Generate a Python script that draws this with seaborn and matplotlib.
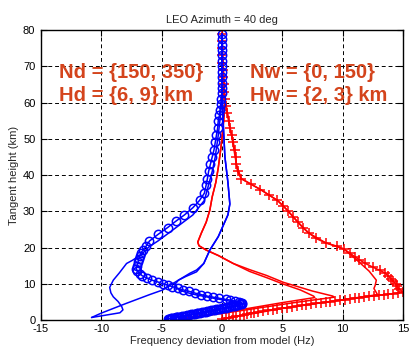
import numpy as np
import pandas as pd
import matplotlib
matplotlib.use("Agg")
import matplotlib.pyplot as plt
import seaborn as sns

# ---------------- data ----------------
# Blue line with circle markers (x = Hz, h = km)
blue_circ_x = [0, 0, 0, 0, 0, 0, 0, 0, 0, 0, 0, 0, -0.05, -0.1, -0.15, -0.2, -0.3, -0.35, -0.45,
               -0.55, -0.65, -0.8, -0.95, -1.1, -1.2, -1.3, -1.45, -1.85, -2.4, -3.1, -3.8,
               -4.5, -5.3, -6.0, -6.3, -6.5, -6.7, -6.8, -6.9, -6.95, -7.05, -7.1, -7.0, -6.8,
               -6.6, -6.2, -5.8, -5.3, -4.9, -4.5, -4.1, -3.6, -3.2, -2.7, -2.2, -1.7, -1.2,
               -0.7, -0.2, 0.3, 0.7, 1.1, 1.4, 1.6, 1.7, 1.65, 1.5, 1.35, 1.2, 1.05, 0.9, 0.75,
               0.6, 0.45, 0.3, 0.15, 0.0, -0.15, -0.3, -0.45, -0.6, -0.75, -0.9, -1.05, -1.2,
               -1.35, -1.5, -1.65, -1.8, -1.95, -2.1, -2.25, -2.4, -2.55, -2.7, -2.85, -3.0,
               -3.15, -3.3, -3.45, -3.6, -3.7, -3.8, -3.9, -4.0, -4.1, -4.2, -4.3, -4.4, -4.5]
blue_circ_h = [79, 77.5, 76, 74.5, 73, 71.5, 70, 68.5, 67, 65.5, 64, 62.5, 61, 59.5, 58, 56.5,
               55, 53, 51, 49, 47, 45, 43, 41, 39, 37.3, 35, 33, 31, 29, 27.3, 25.5, 23.6,
               21.8, 20.3, 19.4, 18.6, 17.7, 16.8, 15.9, 15, 14.2, 13.5, 12.8,
               12.2, 11.6, 11.0, 10.5, 10, 9.6, 9.2, 8.7, 8.3, 7.9, 7.4, 7.0, 6.6, 6.3, 6.0,
               5.7, 5.5, 5.2, 5.0, 4.8, 4.6, 4.45, 4.3, 4.15, 4.05, 3.95, 3.85, 3.75, 3.65,
               3.55, 3.45, 3.35, 3.25, 3.15, 3.05, 2.95, 2.85, 2.75, 2.65, 2.55, 2.45, 2.35,
               2.25, 2.15, 2.05, 1.95, 1.85, 1.75, 1.65, 1.55, 1.45, 1.35, 1.25, 1.15, 1.05,
               0.95, 0.88, 0.81, 0.74, 0.67, 0.6, 0.54, 0.48, 0.42, 0.36, 0.3]

# Blue thin line following the circles, then bending far left
blue_c_x = [0, 0, -0.1, -0.3, -0.55, -0.8, -1.1, -1.45, -2.4, -3.8, -5.3, -6.0, -6.7, -7.4,
            -7.9, -8.5, -9.0, -9.3, -9.2, -9.0, -8.6, -8.3, -8.2, -8.45, -10.8]
blue_c_h = [79, 61, 57, 51, 45, 41, 37.3, 33, 29, 25.5, 21.8, 20.3, 18, 16.5,
            15.6, 13, 11, 9, 7.5, 6.4, 5.1, 3.7, 2.8, 2.0, 0.7]

# Blue thin line (right branch) ending bottom-left
blue_b1_x = [0, 0, 0.1, 0.25, 0.5, 0.66, 0.5, 0.1, -0.3, -1.0, -1.5, -2.1, -2.65, -3.8, -4.9,
             -6.0, -8.0, -10.0, -10.8]
blue_b1_h = [79, 65, 55, 45, 38, 32, 29, 26, 23, 19.3, 15.6, 13.8, 12.9, 10.6, 8.3,
             7.0, 4.5, 1.9, 0.7]

# Blue thin line (right branch) hooking along the circles
blue_b2_x = [0, 0, 0.1, 0.25, 0.5, 0.66, 0.5, 0.1, -0.3, -1.0, -1.5, -2.1, -3.0, -3.6, -3.9,
             -3.85, -3.4, -2.5, -1.0, 0.5, 1.5, 1.6, 0.5, -1.5, -3.3, -4.2]
blue_b2_h = [79, 65, 55, 45, 38, 32, 29, 26, 23, 19.3, 15.6, 13.3, 12.0, 11.0, 9.8,
             8.9, 8.1, 7.2, 6.2, 5.3, 4.6, 4.3, 3.4, 2.1, 1.0, 0.5]

# Red line with plus markers
red_plus_x = [0, 0, 0, 0, 0.05, 0.1, 0.1, 0.15, 0.2, 0.25, 0.35, 0.45, 0.55, 0.65, 0.8, 0.95,
              1.05, 1.15, 1.2, 1.3, 1.6, 2.4, 3.2, 3.9, 4.6, 5.1, 5.5, 5.9, 6.3, 6.7, 7.2,
              7.8, 8.6, 9.5, 10.1, 10.6, 11.0, 11.4, 11.9, 12.5, 13.1, 13.5, 13.8, 14.0, 14.2,
              14.4, 14.5, 14.7, 15.0, 14.6, 14.2, 13.8, 13.4, 13.0, 12.6, 12.2, 11.8, 11.4,
              11.0, 10.6, 10.2, 9.8, 9.4, 9.0, 8.6, 8.2, 7.8, 7.4, 7.0, 6.6, 6.2, 5.8, 5.4,
              5.0, 4.6, 4.2, 3.8, 3.4, 3.0, 2.7, 2.4, 2.1, 1.8, 1.5, 1.2, 0.9, 0.6, 0.3, 0.0]
red_plus_h = [79, 77, 75, 73, 71, 69, 67, 65, 63, 61, 59, 57, 55, 53, 51, 49,
              47, 45, 43, 41, 39, 37.5, 36, 34.5, 33, 31.5, 30, 28.5, 27, 25.5, 24,
              22.5, 21.3, 20.4, 19.6, 18.5, 17.5, 16.6, 15.6, 14.6, 13.7, 13.0, 12.2, 11.4, 10.7,
              10.0, 9.3, 8.6, 7.7, 7.5, 7.3, 7.15, 7.0, 6.8, 6.65, 6.5, 6.3, 6.15,
              6.0, 5.8, 5.65, 5.5, 5.3, 5.1, 4.95, 4.75, 4.6, 4.4, 4.2, 4.05, 3.85, 3.65, 3.45,
              3.25, 3.05, 2.85, 2.65, 2.45, 2.25, 2.05, 1.85, 1.65, 1.45, 1.25, 1.05, 0.85,
              0.65, 0.45, 0.25]

# Red thin line following the plus line then bending
red_3_x = [0, 0.25, 0.8, 1.2, 1.6, 3.2, 4.6, 5.5, 6.3, 7.2, 8.6, 10.1, 11.2, 12.2, 12.8, 12.7,
           12.6, 12.9, 10.0, 7.5, 5.0, 2.3, 0.0]
red_3_h = [79, 61, 51, 43, 39, 36, 33, 30, 27, 24, 21.3, 19.6, 16.5, 13.5, 11.0, 9.5,
           8.7, 7.0, 5.6, 4.4, 3.2, 1.6, 0.3]

# Red thin lines (two branches)
red_1_x = [0, 0, 0.1, 0.25, 0.15, 0.0, -0.1, -0.3, -0.5, -0.8, -1.0, -1.3, -1.7, -2.0, -1.9,
           -1.3, -0.3, 0.94, 2.3, 3.7, 5.1, 6.5, 7.6, 7.7, 5.0, 2.0, -1.0, -3.2]
red_1_h = [79, 70, 65, 60, 55, 50, 47, 42, 38, 34, 30.3, 27, 24, 21.5, 20.5,
           19.3, 17.8, 15.6, 13.4, 11.7, 9.9, 8.3, 6.6, 6.2, 4.8, 3.1, 1.5, 0.5]
red_2_x = [0, 0, 0.1, 0.25, 0.15, 0.0, -0.1, -0.3, -0.5, -0.8, -1.0, -1.3, -1.7, -2.0, -1.9,
           -1.3, -0.3, 0.94, 2.3, 3.7, 5.1, 7.5, 9.2, 9.3, 6.0, 3.0, 0.0, -3.2]
red_2_h = [79, 70, 65, 60, 55, 50, 47, 42, 38, 34, 30.3, 27, 24, 21.5, 20.5,
           19.3, 17.8, 15.6, 13.9, 12.3, 10.4, 8.0, 6.6, 6.3, 4.8, 3.3, 1.8, 0.5]

x_ticks = [-15, -10, -5, 0, 5, 10, 15]
y_ticks = [0, 10, 20, 30, 40, 50, 60, 70, 80]
title = "LEO Azimuth = 40 deg"
xlabel = "Frequency deviation from model (Hz)"
ylabel = "Tangent height (km)"
text_left = ["Nd = {150, 350}", "Hd = {6, 9} km"]
text_right = ["Nw = {0, 150}", "Hw = {2, 3} km"]

# ---------------- plotting ----------------
sns.set_theme(style="white")
plt.rcParams["font.family"] = ["Liberation Sans", "DejaVu Sans"]

fig = plt.figure(figsize=(4.09, 3.49), dpi=100)
ax = fig.add_axes([0.100, 0.083, 0.885, 0.831])

def draw(xs, hs, color, lw=1.1, **kw):
    df = pd.DataFrame({"x": xs, "h": hs})
    sns.lineplot(data=df, x="x", y="h", sort=False, estimator=None, color=color,
                 lw=lw, ax=ax, **kw)

blue = "#0000ff"
red = "#ff0000"
draw(red_1_x, red_1_h, red)
draw(red_2_x, red_2_h, red)
draw(red_3_x, red_3_h, red)
draw(red_plus_x, red_plus_h, red, marker="+", markersize=7, markeredgewidth=1.1,
     markeredgecolor=red)
draw(blue_c_x, blue_c_h, blue)
draw(blue_b1_x, blue_b1_h, blue)
draw(blue_b2_x, blue_b2_h, blue)
draw(blue_circ_x, blue_circ_h, blue, marker="o", markersize=6, markeredgewidth=1.1,
     markerfacecolor="none", markeredgecolor=blue)

ax.set_xlim(-15, 15)
ax.set_ylim(0, 80)
ax.set_xticks(x_ticks)
ax.set_yticks(y_ticks)
ax.set_xticklabels([str(t) for t in x_ticks])
ax.set_yticklabels([str(t) for t in y_ticks])
ax.tick_params(direction="in", length=4, width=0.8, colors="black", labelsize=8,
               top=True, right=True, bottom=True, left=True)
ax.tick_params(axis="x", pad=3)
ax.tick_params(axis="y", pad=4)
ax.grid(True, color="black", linestyle=(0, (4, 3)), linewidth=0.7)
for s in ax.spines.values():
    s.set_color("black")
    s.set_linewidth(1.0)
ax.set_title(title, fontsize=8, pad=5)
ax.set_xlabel(xlabel, fontsize=8, labelpad=1)
ax.set_ylabel(ylabel, fontsize=8, labelpad=3)

tc = "#d4441c"
fs = 14.5
ax.text(0.05, 0.834, text_left[0], transform=ax.transAxes, fontsize=fs,
        fontweight="bold", color=tc, va="baseline")
ax.text(0.05, 0.755, text_left[1], transform=ax.transAxes, fontsize=fs,
        fontweight="bold", color=tc, va="baseline")
ax.text(0.577, 0.834, text_right[0], transform=ax.transAxes, fontsize=fs,
        fontweight="bold", color=tc, va="baseline")
ax.text(0.577, 0.755, text_right[1], transform=ax.transAxes, fontsize=fs,
        fontweight="bold", color=tc, va="baseline")

fig.savefig("out.png", dpi=100)
